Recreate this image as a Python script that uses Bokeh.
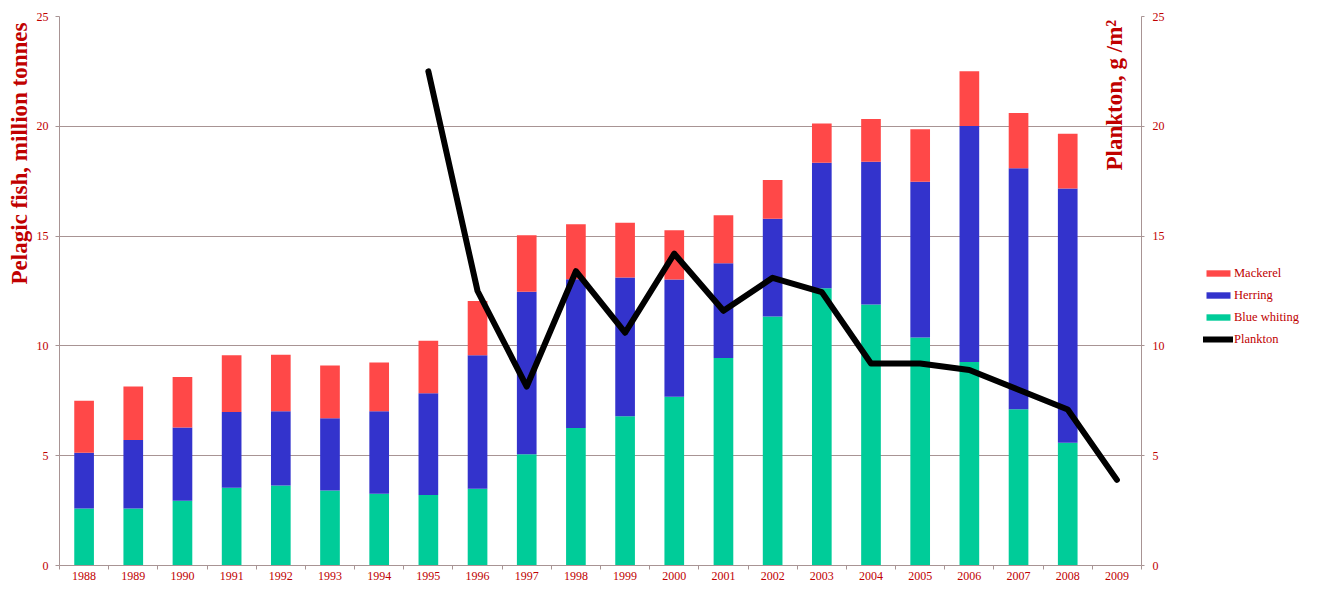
import math
import numpy as np
from bokeh.plotting import figure
from bokeh.layouts import row
from bokeh.models import (Range1d, LinearAxis, FixedTicker, Legend, LegendItem,
                          Label, Title, ColumnDataSource)
from bokeh.embed import file_html
from bokeh.resources import INLINE

years = [str(y) for y in range(1988, 2010)]
blue_whiting = [2.59, 2.60, 2.95, 3.54, 3.64, 3.41, 3.27, 3.21, 3.49, 5.07, 6.26,
                6.80, 7.68, 9.45, 11.34, 12.63, 11.89, 10.38, 9.27, 7.11, 5.59, 0.0]
herring = [2.54, 3.11, 3.33, 3.45, 3.38, 3.30, 3.75, 4.63, 6.08, 7.40, 6.78,
           6.31, 5.34, 4.31, 4.45, 5.71, 6.50, 7.10, 10.74, 10.98, 11.58, 0.0]
mackerel = [2.37, 2.44, 2.30, 2.58, 2.58, 2.40, 2.22, 2.40, 2.47, 2.57, 2.50,
            2.50, 2.25, 2.19, 1.77, 1.79, 1.94, 2.39, 2.50, 2.52, 2.49, 0.0]
plankton = [None, None, None, None, None, None, None, 22.5, 12.5, 8.15, 13.4,
            10.6, 14.2, 11.6, 13.1, 12.45, 9.2, 9.2, 8.9, 8.0, 7.1, 3.9]
y_ticks = [0, 5, 10, 15, 20, 25]
stack_cols = ["blue_whiting", "herring", "mackerel"]
series_colors = ["#00CC99", "#3333CC", "#FF4848"]

RED_TXT = "#C00000"
GRID = "#A89494"
FONT = "Liberation Serif"

xpos = [i + 0.5 for i in range(len(years))]
src = ColumnDataSource(dict(
    x=xpos,
    blue_whiting=blue_whiting,
    herring=herring,
    mackerel=mackerel,
    plankton=np.array(plankton, dtype=float),
))

p = figure(width=1170, height=582, output_backend="svg", toolbar_location=None,
           x_range=Range1d(0, len(years)), y_range=Range1d(0, 25),
           min_border_left=59, min_border_top=16, min_border_right=29,
           min_border_bottom=13)
p.outline_line_color = None
p.background_fill_color = "white"
p.border_fill_color = "white"
p.extra_y_ranges = {"plankton": Range1d(0, 25)}

bars = p.vbar_stack(stack_cols, x="x", width=0.4,
                    color=series_colors, line_color=None, source=src)
line = p.line("x", "plankton", source=src, y_range_name="plankton",
              line_color="black", line_width=6, line_join="round", line_cap="round")

# grid
p.xgrid.visible = False
p.ygrid.ticker = FixedTicker(ticks=y_ticks)
p.ygrid.grid_line_color = GRID
p.ygrid.grid_line_width = 1

# x axis
xa = p.xaxis[0]
xa.ticker = FixedTicker(ticks=xpos, minor_ticks=list(range(len(years) + 1)))
xa.major_label_overrides = {xv: yl for xv, yl in zip(xpos, years)}
xa.major_tick_line_color = None
xa.major_tick_out = 0
xa.major_tick_in = 0
xa.minor_tick_out = 4
xa.minor_tick_in = 0
xa.minor_tick_line_color = GRID
xa.axis_line_color = GRID
xa.major_label_standoff = 2
xa.major_label_text_color = RED_TXT
xa.major_label_text_font = FONT
xa.major_label_text_font_size = "12px"

# left axis
ya = p.yaxis[0]
ya.ticker = FixedTicker(ticks=y_ticks)
ya.major_tick_out = 4
ya.major_tick_in = 0
ya.minor_tick_line_color = None
ya.major_tick_line_color = GRID
ya.axis_line_color = GRID
ya.major_label_standoff = 7
ya.major_label_text_color = RED_TXT
ya.major_label_text_font = FONT
ya.major_label_text_font_size = "12px"

# right axis
yr = LinearAxis(y_range_name="plankton", ticker=FixedTicker(ticks=y_ticks))
yr.major_tick_out = 3
yr.major_tick_in = 0
yr.minor_tick_line_color = None
yr.major_tick_line_color = GRID
yr.axis_line_color = GRID
yr.major_label_standoff = 8
yr.major_label_text_color = RED_TXT
yr.major_label_text_font = FONT
yr.major_label_text_font_size = "12px"
p.add_layout(yr, "right")

# left title
lt = Title(text="Pelagic fish, million tonnes", align="right",
           text_font_size="23px", text_font_style="bold", text_color=RED_TXT,
           text_font=FONT, standoff=4, offset=6)
p.add_layout(lt, "left")

# right title inside the frame
rt = Label(x=21.45, y=24.85, text="Plankton, g /m²", angle=math.pi / 2,
           text_align="right", text_baseline="alphabetic",
           text_font_size="23px", text_font_style="bold", text_color=RED_TXT,
           text_font=FONT)
p.add_layout(rt)

# legend lives in a narrow companion figure to the right; its renderers share
# the same data but the ranges keep them out of view
p2 = figure(width=133, height=582, output_backend="svg", toolbar_location=None,
            x_range=Range1d(-200, -199), y_range=Range1d(-200, -199),
            x_axis_location=None, y_axis_location=None,
            min_border=0, min_border_left=0, min_border_right=0,
            min_border_top=0, min_border_bottom=0)
p2.outline_line_color = None
p2.xgrid.visible = False
p2.ygrid.visible = False
p2.background_fill_color = "white"
p2.border_fill_color = "white"
kbars = p2.vbar_stack(stack_cols, x="x", width=0.4,
                      color=series_colors, line_color=None, source=src)
kline = p2.line("x", "plankton", source=src, line_color="black", line_width=6,
                line_cap="round")

legend = Legend(items=[
    LegendItem(label="Mackerel", renderers=[kbars[2]]),
    LegendItem(label="Herring", renderers=[kbars[1]]),
    LegendItem(label="Blue whiting", renderers=[kbars[0]]),
    LegendItem(label="Plankton", renderers=[kline]),
], location=(33, 215))
legend.border_line_color = None
legend.background_fill_alpha = 0
legend.padding = 0
legend.margin = 0
legend.spacing = 0
legend.label_height = 22
legend.glyph_height = 8
legend.glyph_width = 30
legend.label_standoff = 1
legend.label_text_font = FONT
legend.label_text_font_size = "12.5px"
legend.label_text_color = RED_TXT
p2.add_layout(legend)

layout = row(p, p2)
open("out.html", "w").write(file_html(layout, INLINE))
